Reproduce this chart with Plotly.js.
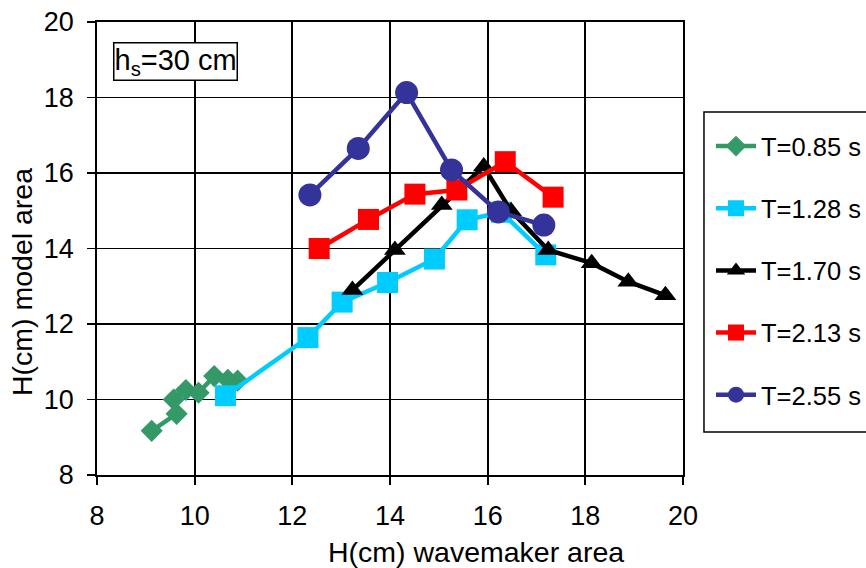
<!DOCTYPE html>
<html><head><meta charset="utf-8">
<script src="https://cdn.plot.ly/plotly-3.0.1.min.js"></script>
<style>html,body{margin:0;padding:0;background:#fff}#c{width:866px;height:568px}</style>
</head><body><div id="c"></div>
<script>
const names = ["T=0.85 s","T=1.28 s","T=1.70 s","T=2.13 s","T=2.55 s"];
const x085 = [9.12, 9.63, 9.57, 9.82, 10.08, 10.40, 10.68, 10.88];
const y085 = [9.17, 9.62, 10.00, 10.25, 10.18, 10.62, 10.52, 10.50];
const x128 = [10.63, 12.32, 13.02, 13.95, 14.91, 15.58, 16.28, 17.19];
const y128 = [10.10, 11.64, 12.58, 13.10, 13.72, 14.76, 14.96, 13.83];
const x170 = [13.23, 14.10, 15.06, 15.92, 16.48, 17.24, 18.13, 18.88, 19.64];
const y170 = [12.90, 13.96, 15.15, 16.17, 14.99, 13.96, 13.61, 13.12, 12.76];
const x213 = [12.55, 13.56, 14.51, 15.37, 16.36, 17.34];
const y213 = [14.00, 14.77, 15.44, 15.55, 16.30, 15.36];
const x255 = [12.36, 13.35, 14.34, 15.26, 16.22, 17.15];
const y255 = [15.42, 16.65, 18.13, 16.08, 14.97, 14.62];
const xTicks = [8,10,12,14,16,18,20];
const yTicks = [8,10,12,14,16,18,20];

const colors = ["#339966","#00CCFF","#000000","#FF0000","#333399"];
const symbols = ["diamond","square","triangle-up","square","circle"];
const sizes = [17,21,19,21,23];
const xs = [x085,x128,x170,x213,x255];
const ys = [y085,y128,y170,y213,y255];

const traces = names.map((n,i)=>({
  x: xs[i], y: ys[i], name: n, type:'scatter', mode:'lines+markers',
  legendgroup: 'g'+i,
  line:{color:colors[i], width:4.5},
  marker:{color:colors[i], symbol:symbols[i], size:sizes[i], line:{width:0}}
}));

const axisBase = {range:[8,20], showgrid:true, gridcolor:'#000', gridwidth:1.8, zeroline:false,
  showline:true, linecolor:'#000', linewidth:1.8, mirror:true, ticks:'outside', ticklen:8,
  tickwidth:1.8, tickcolor:'#000', tickfont:{size:27}, ticklabelstandoff:8};

const layout = {
  width:866, height:568,
  margin:{l:97, r:183, t:22, b:93, autoexpand:false},
  paper_bgcolor:'#fff', plot_bgcolor:'#fff',
  font:{family:'Liberation Sans, Arial, sans-serif', size:24, color:'#000'},
  xaxis:Object.assign({}, axisBase, {tickvals:xTicks, ticktext:xTicks.map(String)}),
  yaxis:Object.assign({}, axisBase, {tickvals:yTicks, ticktext:yTicks.map(String)}),
  legend:{x:1.0478, xanchor:'left', y:0.777, yanchor:'top', borderwidth:0,
    bgcolor:'rgba(0,0,0,0)', font:{size:25.5}, traceorder:'grouped', tracegroupgap:26, itemwidth:40},
  shapes:[{type:'rect', xref:'paper', yref:'paper', x0:1.0358, x1:1.40, y0:0.095, y1:0.8013,
    line:{color:'#000', width:1.5}, fillcolor:'rgba(0,0,0,0)', layer:'below'}],
  annotations:[
    {xref:'paper', yref:'paper', x:0.0273, y:0.956, xanchor:'left', yanchor:'top',
     text:'h<sub>s</sub>=30 cm', showarrow:false, font:{size:29}, bordercolor:'#000', borderwidth:1.5,
     bgcolor:'#fff', borderpad:0},
    {xref:'paper', yref:'paper', x:0.6468, y:-0.17, xanchor:'center', yanchor:'middle',
     text:'H(cm) wavemaker area', showarrow:false, font:{size:28.5}},
    {xref:'paper', yref:'paper', x:-0.128, y:0.426, xanchor:'center', yanchor:'middle', textangle:-90,
     text:'H(cm) model area', showarrow:false, font:{size:28.5}}
  ]
};
Plotly.newPlot('c', traces, layout, {displayModeBar:false, staticPlot:true});
</script></body></html>
